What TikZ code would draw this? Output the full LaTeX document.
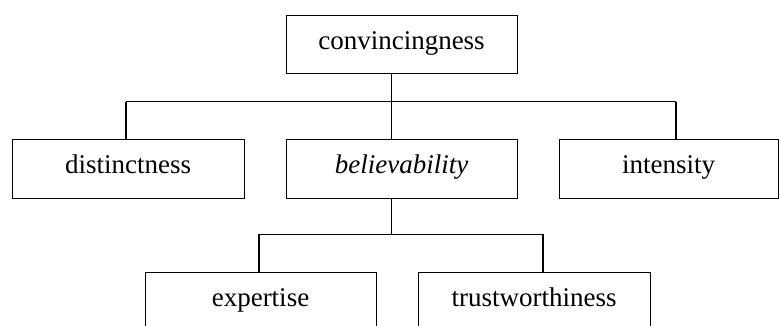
\documentclass[tikz,border=0pt]{standalone}
\usepackage{fontspec}
\setmainfont{Liberation Serif}
\begin{document}
\begin{tikzpicture}[x=1pt,y=-1pt,
  box/.style={draw, line width=0.9pt, inner sep=0pt, minimum height=59pt,
    font=\fontsize{27}{30}\selectfont, text height=18pt, text depth=8pt},
  thin/.style={line width=0.8pt},
  thick/.style={line width=1.6pt}]
\useasboundingbox (0,0) rectangle (779,325);
\clip (0,0) rectangle (779,325);
\node[box, minimum width=231pt, minimum height=58pt] (conv) at (401.5,44) {convincingness};
\node[box, minimum width=232pt] (dist) at (128,168.5) {distinctness};
\node[box, minimum width=231pt] (bel) at (401.5,168.5) {\itshape believability};
\node[box, minimum width=219pt] (int) at (668.5,168.5) {intensity};
\node[box, minimum width=231pt] (exp) at (260.5,301.5) {expertise};
\node[box, minimum width=232pt] (tru) at (534,301.5) {trustworthiness};
\coordinate (j1) at (391.5,101.7);
\coordinate (l1) at (126,101.7);
\coordinate (r1) at (676,101.7);
\coordinate (j2) at (391.5,234);
\coordinate (l2) at (259,234);
\coordinate (r2) at (543,234);
\draw[thin] (j1 |- conv.south) -- (j1 |- bel.north);
\draw[thin] (l1) -- (r1);
\draw[thick] (l1) -- (l1 |- dist.north);
\draw[thick] (r1) -- (r1 |- int.north);
\draw[thick] (j2 |- bel.south) -- (j2);
\draw[thin] (l2) -- (r2);
\draw[thick] (l2) -- (l2 |- exp.north);
\draw[thick] (r2) -- (r2 |- tru.north);
\end{tikzpicture}
\end{document}
